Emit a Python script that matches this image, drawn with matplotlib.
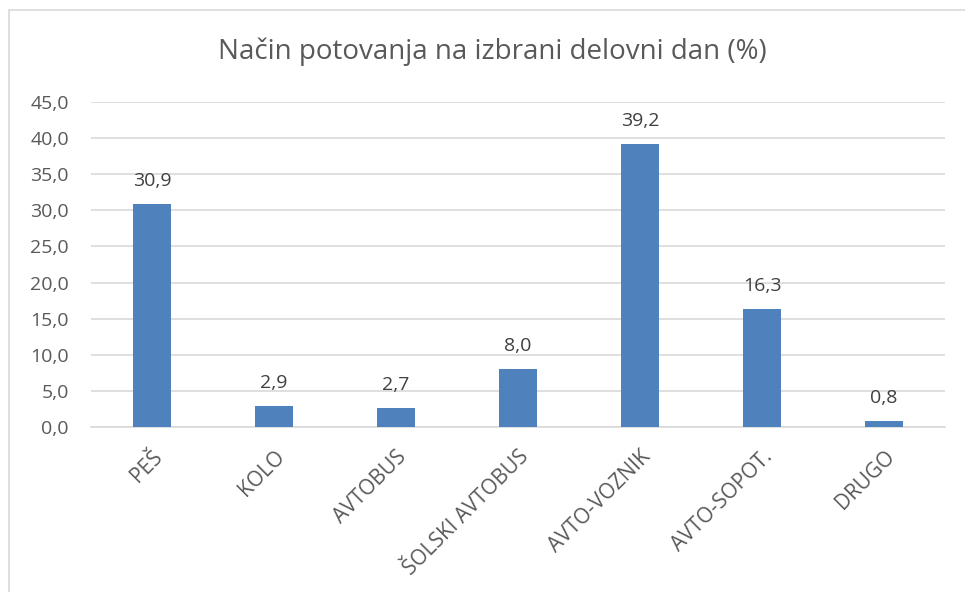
import matplotlib
matplotlib.use("Agg")
import matplotlib.pyplot as plt
from matplotlib.patches import Rectangle

categories = ["PEŠ", "KOLO", "AVTOBUS", "ŠOLSKI AVTOBUS", "AVTO-VOZNIK", "AVTO-SOPOT.", "DRUGO"]
values = [30.9, 2.9, 2.7, 8.0, 39.2, 16.3, 0.8]
yticks = [0, 5, 10, 15, 20, 25, 30, 35, 40, 45]

plt.rcParams['font.family'] = ['Open Sans', 'DejaVu Sans']
txt = '#595959'

fig = plt.figure(figsize=(9.65, 5.92), dpi=100)
fig.patches.append(Rectangle((9/965, -0.1), 1.1, 1 - 10/592 + 0.1, transform=fig.transFigure,
                             fill=False, edgecolor='#D9D9D9', linewidth=1.2))
ax = fig.add_axes([91/965, 1 - 427/592, (945 - 91)/965, (427 - 102)/592])

x = range(len(categories))
bars = ax.bar(x, values, width=0.31, color='#4F81BD', zorder=3)
for xi, v in zip(x, values):
    ax.annotate(f"{v:.1f}".replace('.', ','), (xi, v), xytext=(0, 10), textcoords='offset points',
                ha='center', va='bottom', fontsize=14, color='#404040')

ax.set_xlim(-0.5, len(categories) - 0.5)
ax.set_ylim(0, 45)
ax.set_yticks(yticks)
ax.set_yticklabels([f"{t:.1f}".replace('.', ',') for t in yticks], fontsize=14, color=txt)
ax.set_xticks(list(x))
ax.set_xticklabels(categories, rotation=45, ha='right', rotation_mode='anchor', fontsize=15, color=txt)
ax.tick_params(axis='both', length=0)
ax.tick_params(axis='y', pad=16)
ax.tick_params(axis='x', pad=14)
ax.grid(axis='y', color='#D9D9D9', linewidth=1.2, zorder=0)
for s in ['top', 'right', 'left']:
    ax.spines[s].set_visible(False)
ax.spines['bottom'].set_color('#D9D9D9')
ax.spines['bottom'].set_linewidth(1.2)

fig.text(492/965, 1 - 52/592, "Način potovanja na izbrani delovni dan (%)", ha='center', va='center',
         fontsize=20, color=txt)

fig.savefig("out.png", dpi=100)
